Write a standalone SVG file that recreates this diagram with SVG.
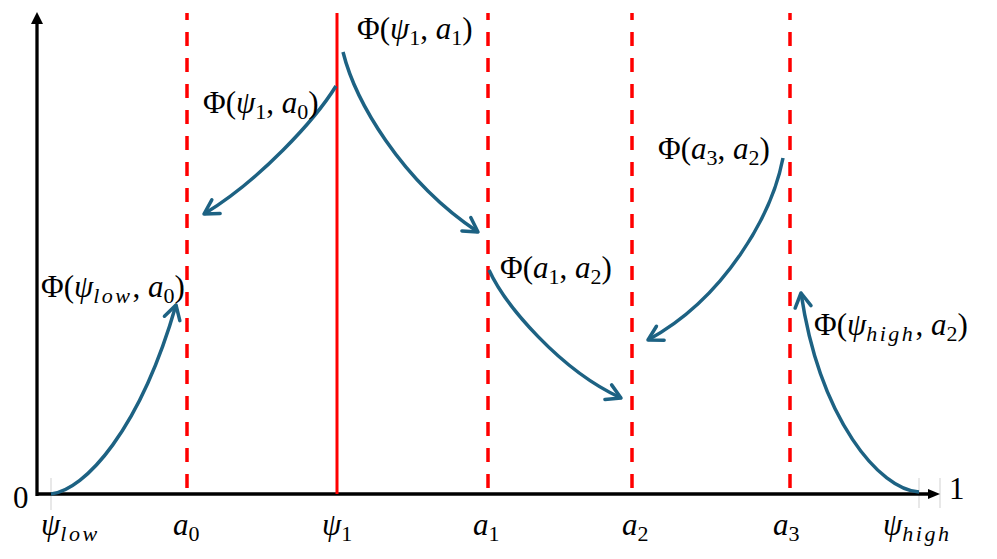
<svg xmlns="http://www.w3.org/2000/svg" width="997" height="559" viewBox="0 0 997 559">
<style>
.ax{stroke:#000;stroke-width:3.3;fill:none}
.tick{stroke:#d9d9d9;stroke-width:1.2}
.dash{stroke:#ff0000;stroke-width:3.5;stroke-dasharray:14 12;stroke-dashoffset:7;fill:none}
.solid{stroke:#ff0000;stroke-width:3;fill:none}
.cv{stroke:#1d6283;stroke-width:3.5;fill:none;marker-end:url(#ah)}
text{font-family:"Liberation Serif","DejaVu Serif",serif;font-size:31px;fill:#000}
.i{font-style:italic}
.s{font-size:22px}
.w{letter-spacing:2.5px}
</style>
<defs>
<marker id="ah" markerUnits="userSpaceOnUse" markerWidth="30" markerHeight="30" refX="0" refY="0" viewBox="-20 -15 30 30" orient="auto" overflow="visible">
<path d="M-14,-8 L0,0 L-14,8" fill="none" stroke="#1d6283" stroke-width="3.5" stroke-linecap="round" stroke-linejoin="round"/>
</marker>
</defs>
<g id="axes">
<line class="tick" x1="51" y1="478" x2="51" y2="510"/>
<line class="tick" x1="919" y1="478" x2="919" y2="508"/>
<line class="tick" x1="940" y1="478" x2="940" y2="508"/>
<line class="ax" x1="37" y1="496" x2="37" y2="22"/>
<polygon points="37,12 31,24 43,24" fill="#000"/>
<line class="ax" x1="36" y1="494" x2="930" y2="494"/>
<polygon points="940,494 928,489 928,499" fill="#000"/>
</g>
<g id="bounds">
<line class="dash" x1="187" y1="13" x2="187" y2="494"/>
<line class="solid" x1="337" y1="13" x2="337" y2="494"/>
<line class="dash" x1="488" y1="13" x2="488" y2="494"/>
<line class="dash" x1="632" y1="13" x2="632" y2="494"/>
<line class="dash" x1="790" y1="13" x2="790" y2="494"/>
</g>
<g id="connectors">
<path class="cv" d="M51,494 C85,490 140,430 176,305"/>
<path class="cv" d="M336,86 C315,120 260,180 204,214"/>
<path class="cv" d="M343,52 C355,100 400,180 478,232"/>
<path class="cv" d="M489,270 C505,305 560,370 621,398"/>
<path class="cv" d="M783,158 C772,215 725,298 648,340"/>
<path class="cv" d="M919,492 C880,490 820,420 801,293"/>
</g>
<g id="labels">
<text x="357" y="39">Φ(<tspan class="i">ψ</tspan><tspan class="s" dy="6">1</tspan><tspan dy="-6">, </tspan><tspan class="i">a</tspan><tspan class="s" dy="6">1</tspan><tspan dy="-6">)</tspan></text>
<text x="203" y="113">Φ(<tspan class="i">ψ</tspan><tspan class="s" dy="6">1</tspan><tspan dy="-6">, </tspan><tspan class="i">a</tspan><tspan class="s" dy="6">0</tspan><tspan dy="-6">)</tspan></text>
<text x="658" y="159">Φ(<tspan class="i">a</tspan><tspan class="s" dy="6">3</tspan><tspan dy="-6">, </tspan><tspan class="i">a</tspan><tspan class="s" dy="6">2</tspan><tspan dy="-6">)</tspan></text>
<text x="500" y="278">Φ(<tspan class="i">a</tspan><tspan class="s" dy="6">1</tspan><tspan dy="-6">, </tspan><tspan class="i">a</tspan><tspan class="s" dy="6">2</tspan><tspan dy="-6">)</tspan></text>
<text x="41" y="297">Φ(<tspan class="i">ψ</tspan><tspan class="s i w" dy="6">low</tspan><tspan dy="-6">, </tspan><tspan class="i">a</tspan><tspan class="s" dy="6">0</tspan><tspan dy="-6">)</tspan></text>
<text x="814" y="335">Φ(<tspan class="i">ψ</tspan><tspan class="s i w" dy="6">high</tspan><tspan dy="-6">, </tspan><tspan class="i">a</tspan><tspan class="s" dy="6">2</tspan><tspan dy="-6">)</tspan></text>
<text x="13" y="508">0</text>
<text x="949" y="499">1</text>
<text x="41" y="535"><tspan class="i">ψ</tspan><tspan class="s i w" dy="6">low</tspan></text>
<text x="173" y="535"><tspan class="i">a</tspan><tspan class="s" dy="6">0</tspan></text>
<text x="322" y="535"><tspan class="i">ψ</tspan><tspan class="s" dy="6">1</tspan></text>
<text x="473" y="535"><tspan class="i">a</tspan><tspan class="s" dy="6">1</tspan></text>
<text x="622" y="535"><tspan class="i">a</tspan><tspan class="s" dy="6">2</tspan></text>
<text x="773" y="535"><tspan class="i">a</tspan><tspan class="s" dy="6">3</tspan></text>
<text x="883" y="535"><tspan class="i">ψ</tspan><tspan class="s i w" dy="6">high</tspan></text>
</g>
</svg>
